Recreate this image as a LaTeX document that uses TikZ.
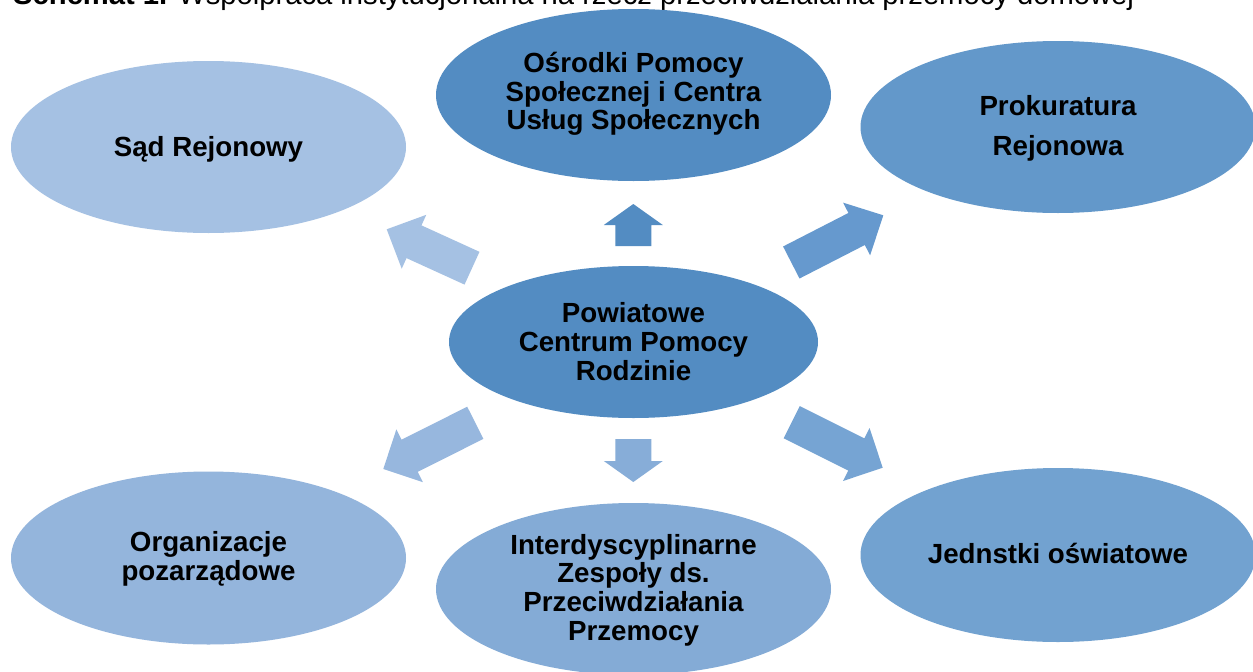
\documentclass[tikz,border=0pt]{standalone}
\usepackage{fontspec}
\setmainfont{Liberation Sans}
\usetikzlibrary{shapes.geometric,calc}
\definecolor{cSad}{RGB}{165,193,227}
\definecolor{cOsr}{RGB}{83,140,194}
\definecolor{cProk}{RGB}{99,152,202}
\definecolor{cCen}{RGB}{83,140,194}
\definecolor{cOrg}{RGB}{148,181,220}
\definecolor{cInt}{RGB}{132,171,214}
\definecolor{cJed}{RGB}{114,162,208}
\definecolor{aUL}{RGB}{165,193,227}
\definecolor{aUP}{RGB}{83,140,194}
\definecolor{aUR}{RGB}{102,153,206}
\definecolor{aLL}{RGB}{151,183,222}
\definecolor{aDN}{RGB}{135,173,216}
\definecolor{aLR}{RGB}{118,164,211}
\newcommand{\blockarrow}[6]{%
  \coordinate (hb) at ($(#2)!#5!(#1)$);
  \fill[#6] ($(#1)!#3!90:(#2)$) -- ($(hb)!#3!90:(#2)$) -- ($(hb)!#4!90:(#2)$) -- (#2)
    -- ($(hb)!#4!-90:(#2)$) -- ($(hb)!#3!-90:(#2)$) -- ($(#1)!#3!-90:(#2)$) -- cycle;}
\tikzset{
  bubble/.style={ellipse, draw=none, inner sep=0pt, outer sep=0pt},
  lbl/.style={inner sep=0pt, align=center, font=\bfseries\fontsize{27.7}{28.7}\selectfont},
}
\begin{document}
\begin{tikzpicture}[x=1pt,y=-1pt]
\useasboundingbox (0,0) rectangle (1253,672);
\clip (0,0) rectangle (1253,672);
\fill[white] (0,0) rectangle (1253,672);
\node[anchor=base west, inner sep=0pt, font=\fontsize{29.2}{30}\selectfont] (title) at (13,4.5)
  {\textbf{Schemat 1.} Współpraca instytucjonalna na rzecz przeciwdziałania przemocy domowej};
\node[bubble, fill=cSad, minimum width=395pt, minimum height=172pt] (sad) at (208.5,147) {};
\node[bubble, fill=cOsr, minimum width=395pt, minimum height=172pt] (osr) at (633.5,95) {};
\node[bubble, fill=cProk, minimum width=395pt, minimum height=172pt] (prok) at (1058,127) {};
\node[bubble, fill=cCen, minimum width=369pt, minimum height=152pt] (pcpr) at (633.5,342) {};
\node[bubble, fill=cOrg, minimum width=395pt, minimum height=173pt] (org) at (208.5,558) {};
\node[bubble, fill=cInt, minimum width=395pt, minimum height=172pt] (int) at (633.5,589) {};
\node[bubble, fill=cJed, minimum width=395pt, minimum height=174pt] (jed) at (1058,555) {};
% labels
\node[lbl] (sadT) at ($(sad)+(0,2.4)$) {Sąd Rejonowy};
\node[lbl] (osrT) at ($(osr)+(0,-1)$) {Ośrodki Pomocy\\Społecznej i Centra\\Usług Społecznych};
\node[lbl] (prokT) at ($(prok)+(0,1.6)$) {Prokuratura\\[11pt]Rejonowa};
\node[lbl] (pcprT) at ($(pcpr)+(0,-0.5)$) {Powiatowe\\Centrum Pomocy\\Rodzinie};
\node[lbl] (orgT) at ($(org)+(0,0.9)$) {Organizacje\\pozarządowe};
\node[lbl] (intT) at ($(int)+(0,0.9)$) {Interdyscyplinarne\\Zespoły ds.\\Przeciwdziałania\\Przemocy};
\node[lbl] (jedT) at ($(jed)+(0,-1.5)$) {Jednstki oświatowe};
% arrow ends
\coordinate (ulT) at (472,268.2);   \coordinate (ulH) at (386.7,229.3);
\coordinate (upT) at (633.3,246);   \coordinate (upH) at (633.3,204);
\coordinate (urT) at (791.3,262.5); \coordinate (urH) at (883.3,215.3);
\coordinate (llT) at (475.3,422.8); \coordinate (llH) at (383.3,469);
\coordinate (dnT) at (633.3,439);   \coordinate (dnH) at (633.3,482);
\coordinate (lrT) at (791.7,422.2); \coordinate (lrH) at (882.7,467.7);
\blockarrow{ulT}{ulH}{18pt}{29.6pt}{30pt}{aUL}
\blockarrow{upT}{upH}{18pt}{29.5pt}{21pt}{aUP}
\blockarrow{urT}{urH}{18pt}{29.6pt}{30pt}{aUR}
\blockarrow{llT}{llH}{18pt}{29.6pt}{29.5pt}{aLL}
\blockarrow{dnT}{dnH}{18pt}{29.5pt}{21pt}{aDN}
\blockarrow{lrT}{lrH}{18pt}{29.6pt}{29.5pt}{aLR}
\end{tikzpicture}
\end{document}
